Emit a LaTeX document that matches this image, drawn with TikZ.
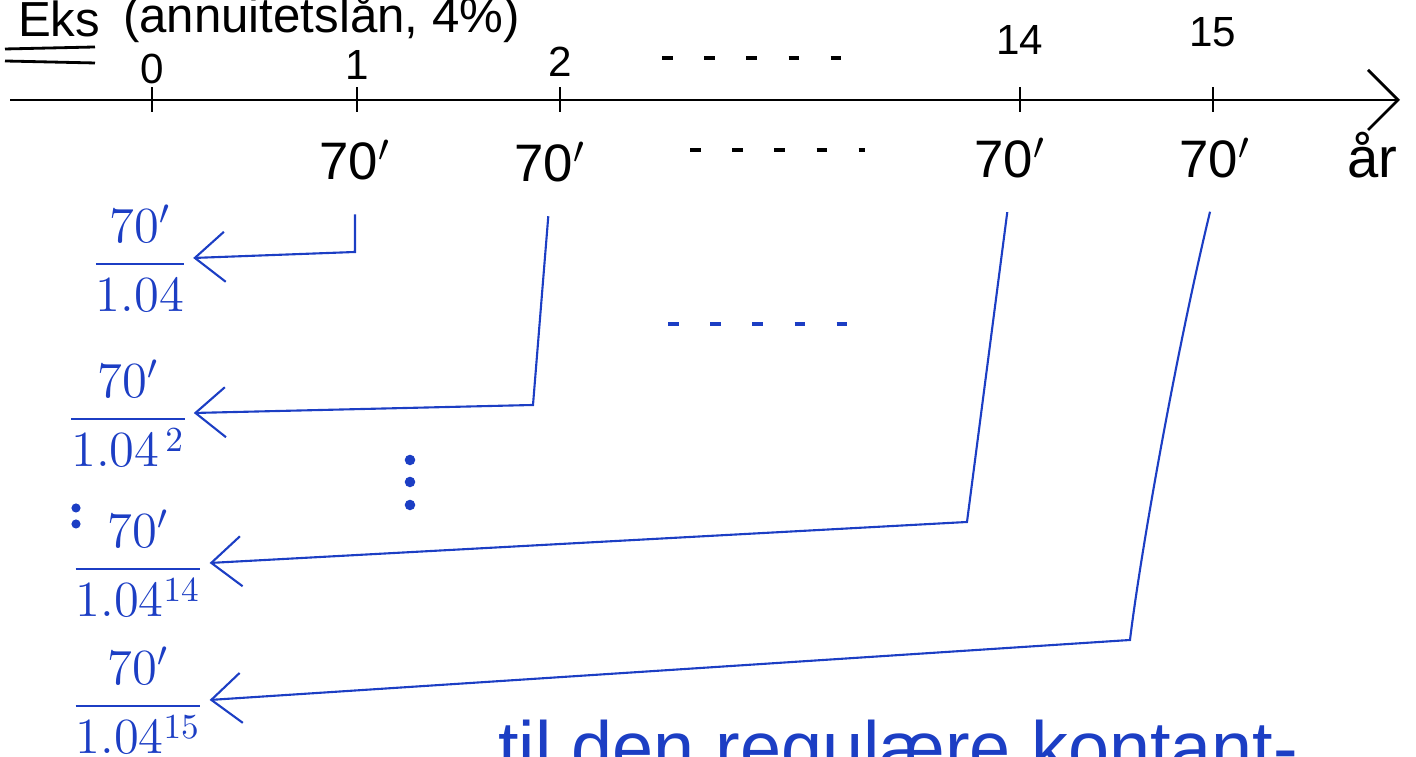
\documentclass[tikz,border=0pt]{standalone}
\usepackage{amsmath, amssymb}
\usepackage{xcolor}
\usepackage{fontspec}
\setmainfont{Liberation Sans}
\usepackage{tikz}
\usetikzlibrary{positioning, arrows.meta}

\definecolor{penblue}{RGB}{28,62,196}

\begin{document}
\begin{tikzpicture}[x=1cm,y=1cm,thick,
    tick/.style={font=\large},
    cash/.style={font=\fontsize{15}{18}\selectfont},
    pv/.style={text=penblue,font=\fontsize{14}{17}\selectfont,inner sep=1pt},
    flow/.style={penblue,semithick,-{Straight Barb[length=3mm,width=5mm]},shorten <=6pt},
    dots/.style={dash pattern=on 3pt off 9pt,line width=1.4pt}]
    \useasboundingbox (0,0) rectangle (14.16,7.57);
    \clip (0,0) rectangle (14.16,7.57);

    % Overskrift
    \node[anchor=base west,font=\fontsize{14}{17}\selectfont] (eks) at (0.05,7.20) {Eks};
    \node[anchor=base west,font=\fontsize{14}{17}\selectfont] (title) at (1.10,7.24) {(annuitetslån, 4\%)};
    \draw (0.05,7.08) -- (0.95,7.10);
    \draw (0.05,6.96) -- (0.95,6.94);

    % Tidslinje
    \coordinate (start) at (0.1,6.57);
    \coordinate (end) at (14.0,6.57);
    \draw[-{Straight Barb[length=3mm,width=6mm]}] (start) -- (end);
    \node[font=\fontsize{16}{19}\selectfont] (aar) at (13.72,6.02) {år};

    \foreach \x/\n/\l/\ly in {1.52/t0/0/6.88, 3.57/t1/1/6.92, 5.60/t2/2/6.95, 10.20/t14/14/7.17, 12.13/t15/15/7.25}{
        \draw (\x,6.45) -- (\x,6.70);
        \node[tick] (\n) at (\x,\ly) {\l};
    }
    \coordinate (da) at (6.62,6.99);
    \coordinate (db) at (8.50,6.99);
    \draw[dots] (da) -- (db);

    % Kontantstrøm
    \node[cash] (c1) at (3.55,5.97) {70$'$};
    \node[cash] (c2) at (5.50,5.95) {70$'$};
    \node[cash] (c14) at (10.10,5.99) {70$'$};
    \node[cash] (c15) at (12.15,5.99) {70$'$};
    \coordinate (dc) at (6.90,6.07);
    \coordinate (dd) at (8.65,6.07);
    \draw[dots] (dc) -- (dd);

    % Nåverdier
    \node[pv] (pv1) at (1.40,4.99) {$\dfrac{70'}{1.04}$};
    \node[pv] (pv2) at (1.28,3.44) {$\dfrac{70'}{1.04^{\,2}}$};
    \node[pv] (pv14) at (1.38,1.94) {$\dfrac{70'}{1.04^{14}}$};
    \node[pv] (pv15) at (1.38,0.57) {$\dfrac{70'}{1.04^{15}}$};

    % Knekkpunkter
    \coordinate (k1) at (3.55,5.05);
    \coordinate (k2) at (5.33,3.52);
    \coordinate (k14) at (9.67,2.35);
    \coordinate (k15) at (11.30,1.17);

    \draw[flow] (c1.south) -- (k1) -- (pv1.east);
    \draw[flow] (c2.south) -- (k2) -- (pv2.east);
    \draw[flow] (c14.south) -- (k14) -- (pv14.east);
    \draw[flow] (c15.south) .. controls (11.75,4.0) and (11.40,2.0) .. (k15) -- (pv15.east);

    % Prikker
    \coordinate (de) at (6.68,4.33);
    \coordinate (df) at (8.70,4.33);
    \draw[penblue,dots] (de) -- (df);
    \foreach \y in {2.97,2.75,2.52}{
        \fill[penblue] (4.10,\y) circle (1.5pt);
    }
    \foreach \y in {2.49,2.33}{
        \fill[penblue] (0.76,\y) circle (1.3pt);
    }

    % Tekst nederst
    \node[anchor=base west,text=penblue,font=\fontsize{21}{24}\selectfont] (note) at (4.85,-0.17) {til den regulære kontant-};
\end{tikzpicture}
\end{document}
